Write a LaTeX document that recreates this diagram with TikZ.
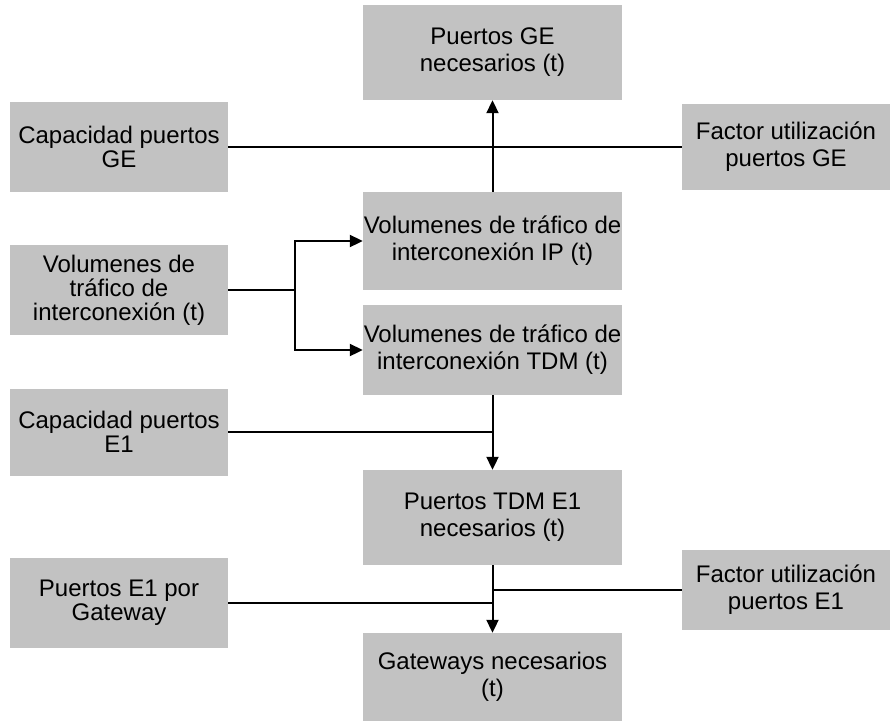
\documentclass[tikz,border=0pt]{standalone}
\usepackage{fontspec}
\setmainfont{Liberation Sans}
\usetikzlibrary{arrows.meta}
\begin{document}
\begin{tikzpicture}[x=1pt,y=-1pt,
  box/.style={fill=black!24, inner sep=0pt, align=center, anchor=center,
              font=\fontsize{24}{27}\selectfont},
  tight/.style={font=\fontsize{24}{24}\selectfont},
  side/.style={box, minimum width=218pt},
  mid/.style={box, minimum width=259pt},
  right/.style={box, minimum width=208pt},
  link/.style={line width=1.8pt},
  flow/.style={line width=2pt, -{Triangle[length=13pt,width=12pt]}}
]
\useasboundingbox (0,0) rectangle (890,721);

% centre column
\node[mid, minimum height=95pt] (gen)  at (492.5,52.5) {Puertos GE\\necesarios (t)};
\node[mid, minimum height=98pt] (ip)   at (492.5,241)  {Volumenes de tráfico de\\interconexión IP (t)};
\node[mid, minimum height=90pt] (tdm)  at (492.5,350)  {Volumenes de tráfico de\\interconexión TDM (t)};
\node[mid, minimum height=95pt] (ptdm) at (492.5,517.5) {Puertos TDM E1\\necesarios (t)};
\node[mid, minimum height=88pt] (gw)   at (492.5,677)  {Gateways necesarios\\(t)};

% left column
\node[side, tight, minimum height=90pt] (capge) at (119,147) {Capacidad puertos\\GE};
\node[side, tight, minimum height=90pt] (vol)   at (119,290) {Volumenes de\\tráfico de\\interconexión (t)};
\node[side, tight, minimum height=87pt] (cape1) at (119,432) {Capacidad puertos\\E1};
\node[side, tight, minimum height=90pt] (pe1)   at (119,603) {Puertos E1 por\\Gateway};

% right column
\node[right, minimum height=86pt] (facge) at (786,147) {Factor utilización\\puertos GE};
\node[right, minimum height=80pt] (face1) at (786,590) {Factor utilización\\puertos E1};

% GE ports
\draw[flow] (ip.north) -- (gen.south);
\draw[link] (capge.east) -- (facge.west);

% traffic split
\coordinate (split) at (295,290);
\draw[link] (vol.east) -- (split);
\draw[flow] (split) |- (ip.west);
\draw[flow] (split) |- (tdm.west);

% E1 ports and gateways
\draw[flow] (tdm.south) -- (ptdm.north);
\draw[link] (cape1.east) -- (cape1.east -| tdm.south);
\draw[flow] (ptdm.south) -- (gw.north);
\draw[link] (pe1.east) -- (pe1.east -| gw.north);
\draw[link] (face1.west) -- (face1.west -| gw.north);
\end{tikzpicture}
\end{document}
